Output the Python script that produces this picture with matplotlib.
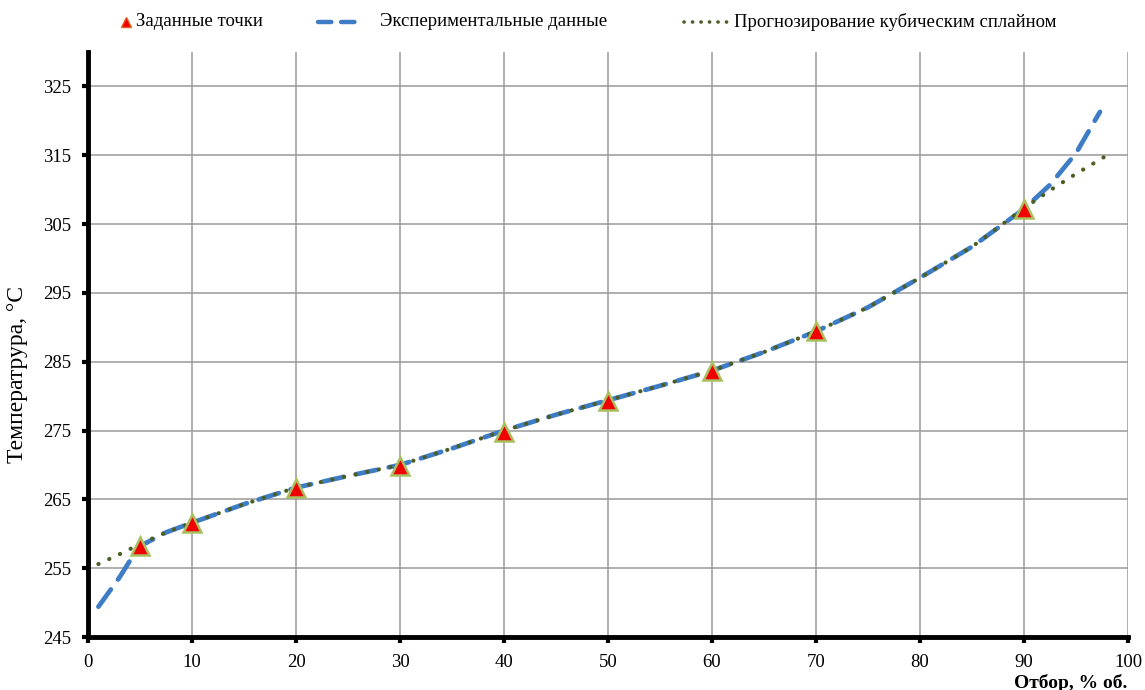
import matplotlib
matplotlib.use("Agg")
from matplotlib import pyplot as plt
from matplotlib.lines import Line2D

# given points (triangles)
pts_x = [5, 10, 20, 30, 40, 50, 60, 70, 90]
pts_y = [258.2, 261.5, 266.6, 269.9, 274.8, 279.3, 283.7, 289.4, 307.2]

# experimental data (blue dashed)
exp_x = [1, 2, 3, 4, 5, 7.5, 10, 15, 20, 25, 30, 35, 40, 45, 50, 55,
         60, 65, 70, 75, 80, 85, 90, 92.5, 95, 97.3]
exp_y = [249.4, 251.5, 253.6, 256.0, 258.2, 260.2, 261.6, 264.3, 266.7,
         268.4, 270.0, 272.4, 275.0, 277.3, 279.4, 281.5, 283.7, 286.4,
         289.4, 292.9, 297.2, 301.7, 307.2, 310.7, 315.3, 321.3]

# cubic spline forecast (green dotted)
spl_x = [1, 3, 5, 7.5, 10, 15, 20, 25, 30, 35, 40, 45, 50, 55, 60, 65,
         70, 75, 80, 85, 90, 92.5, 95, 98]
spl_y = [255.6, 257.0, 258.5, 260.2, 261.6, 264.3, 266.7, 268.4, 270.0,
         272.4, 275.0, 277.3, 279.4, 281.5, 283.7, 286.4, 289.4, 292.9,
         297.2, 301.7, 307.3, 309.9, 312.3, 315.0]

labels = ["Заданные точки", "Экспериментальные данные",
          "Прогнозирование кубическим сплайном"]

plt.rcParams['font.family'] = ['Liberation Serif', 'DejaVu Serif']

W, H = 1145, 690
fig = plt.figure(figsize=(W / 100, H / 100), dpi=100)
ax = fig.add_axes([88 / W, 1 - 637 / H, (1128 - 88) / W, (637 - 52) / H])

blue = "#3E7DC6"
green = "#4B5E23"
blue_ls = (0, (4.5, 2.6))
green_ls = (0, (0.05, 2.8))

ax.plot(exp_x, exp_y, color=blue, lw=3.4, linestyle=blue_ls,
        dash_capstyle="round", zorder=3)
ax.plot(spl_x, spl_y, color=green, lw=3.0, linestyle=green_ls,
        dash_capstyle="round", zorder=4)
ax.plot(pts_x, pts_y, linestyle="none", marker="^", markersize=13,
        markerfacecolor="#F00000", markeredgecolor="#A8C060",
        markeredgewidth=1.8, zorder=5)

ax.set_xlim(0, 100)
ax.set_ylim(245, 330)
ax.set_xticks(range(0, 101, 10))
ax.set_yticks(range(245, 330, 10))
ax.grid(True, color="#9A9A9A", lw=1.1)
ax.set_axisbelow(True)

for s in ["top", "right"]:
    ax.spines[s].set_visible(False)
for s in ["left", "bottom"]:
    ax.spines[s].set_linewidth(3.5)
ax.tick_params(axis="both", direction="out", length=4, width=3,
               labelsize=13.5, pad=8)

fig.text(18 / W, 1 - 374 / H, "Температрура, °C", rotation=90,
         fontsize=17, ha="center", va="center")
fig.text(1127 / W, 1 - 683 / H, "Отбор, % об.", fontsize=14,
         fontweight="bold", ha="right", va="center")

# legend row, placed by hand
ly = 1 - 22 / H
fig.add_artist(Line2D([126 / W], [ly], linestyle="none", marker="^",
                      markersize=7, markerfacecolor="#F00000",
                      markeredgecolor="#E06020"))
fig.add_artist(Line2D([318 / W, 360 / W], [ly, ly], color=blue, lw=3.2,
                      linestyle=(0, (3.0, 2.2)), dash_capstyle="round"))
fig.add_artist(Line2D([684 / W, 728 / W], [ly, ly], color=green, lw=2.6,
                      linestyle=(0, (0.05, 2.3)), dash_capstyle="round"))
for x0, txt in zip([136, 380, 734], labels):
    fig.text(x0 / W, ly, txt, fontsize=13.5, ha="left", va="center")

fig.savefig("out.png", dpi=100)
